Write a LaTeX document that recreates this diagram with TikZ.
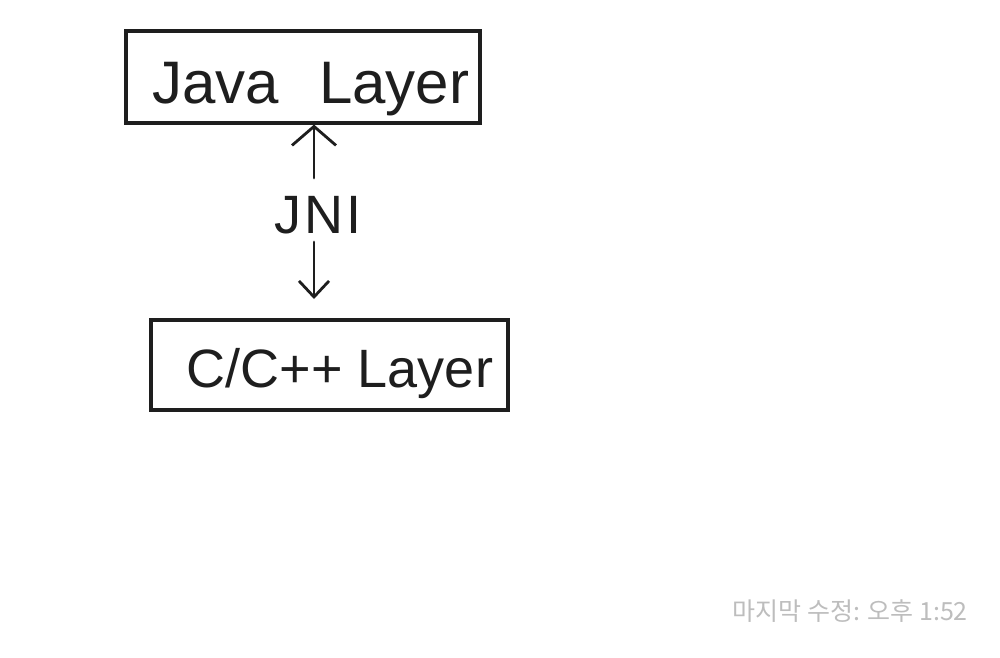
\documentclass[tikz,border=0pt]{standalone}
\usepackage{fontspec}
\setmainfont{Liberation Sans}
\newfontfamily\krfont{Noto Sans CJK KR}
\usetikzlibrary{arrows.meta}
\definecolor{ink}{HTML}{1E1E1E}
\definecolor{stamp}{HTML}{BDBDBD}
\begin{document}
\begin{tikzpicture}[x=1pt,y=-1pt,
  layerbox/.style={draw=ink,line width=3.1pt,minimum width=#1,inner sep=0pt},
  hand/.style={text=ink,inner sep=0pt,anchor=base},
  link/.style={draw=ink,line width=2.8pt,line cap=round}]
\useasboundingbox[fill=white] (0,0) rectangle (1000,657);
% boxes
\node[layerbox=354pt,minimum height=92pt] (java) at (303,77) {};
\node[layerbox=357pt,minimum height=90pt] (cpp) at (329.5,365) {};
% texts
\node[hand,font=\fontsize{60}{60}\selectfont] (javat) at (311,103) {Java\,\,\,\,Layer};
\node[hand,font=\fontsize{54}{54}\selectfont] (cppt) at (340,387) {C/C++ Layer};
\node[hand,font=\fontsize{54}{54}\selectfont] (jni) at (318,233) {J\kern3ptN\kern3ptI};
% connectors
\coordinate (upstart) at (314,178);
\coordinate (downend) at (314,299);
\coordinate (downstart) at (314,242);
\draw[link,-{Straight Barb[length=19pt,width=44pt,line width=2.8pt]}] (upstart) -- (upstart |- java.south);
\draw[link,-{Straight Barb[length=16pt,width=30pt,line width=2.8pt]}] (downstart) -- (downend);
% timestamp
\node[text=stamp,inner sep=0pt,anchor=base east,font=\krfont\fontsize{25}{25}\selectfont] (stamp) at (968,620) {마지막 수정: 오후 1:52};
\end{tikzpicture}
\end{document}
